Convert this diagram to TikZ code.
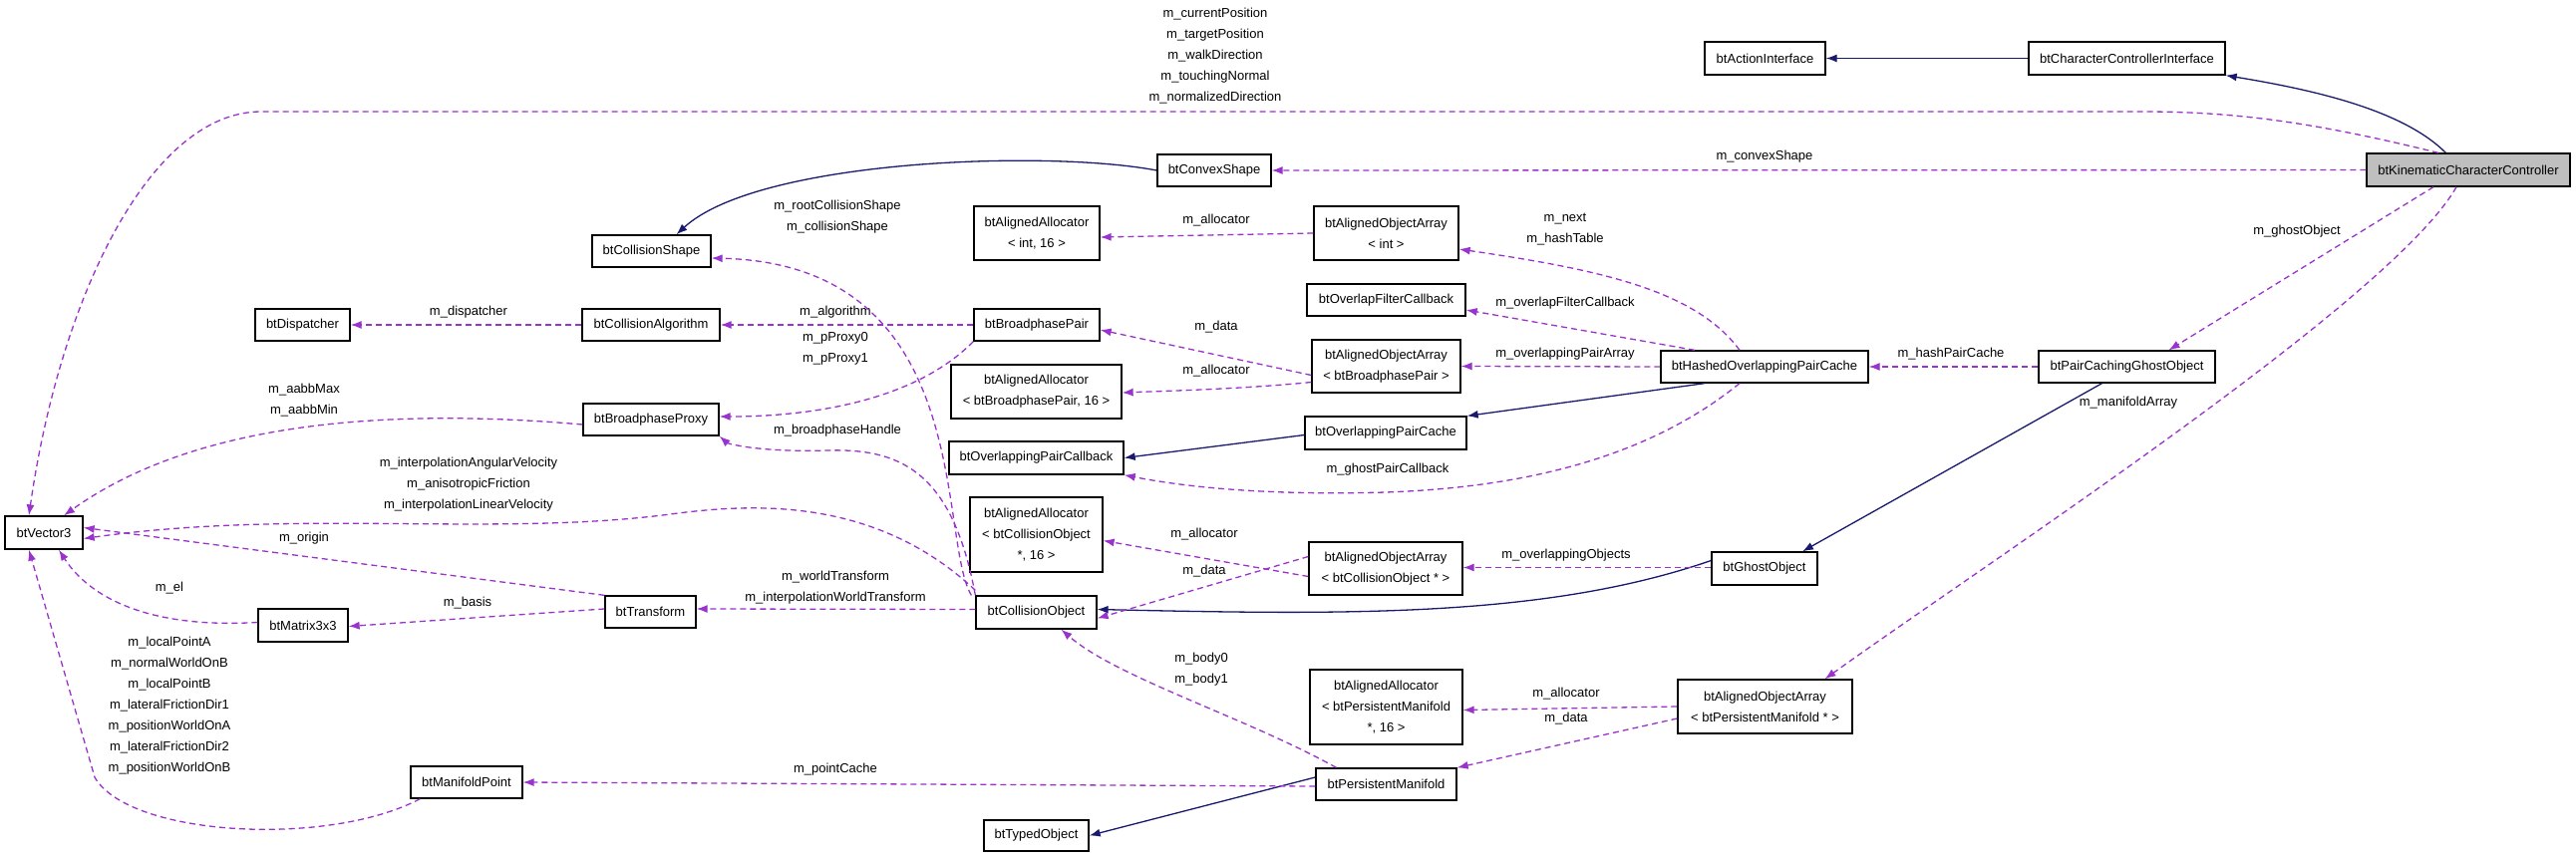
\documentclass[tikz,border=0pt]{standalone}
\usepackage{fontspec}
\setmainfont{Liberation Sans}
\usetikzlibrary{arrows.meta}
\definecolor{dpurple}{HTML}{9A32CD}
\definecolor{navy}{HTML}{191970}
\newcommand\bx[7][]{\node[box,#1,minimum width={(#5-#3)*1pt},minimum height={(#6-#4)*1pt}] (#2) at ({(#3+#5)/2},{(#4+#6)/2}) {#7};}
\newcommand\lb[3]{\node[lbl] (#1) at (#2) {#3};}
\begin{document}
\begin{tikzpicture}[x=1pt,y=-1pt,
  box/.style={draw=black,line width=1.3pt,inner sep=0pt,align=center,font=\fontsize{13}{21}\selectfont},
  lbl/.style={inner sep=0pt,align=center,font=\fontsize{13}{21}\selectfont},
  mem/.style={draw=dpurple,line width=1.3pt,dash pattern=on 6pt off 4pt,-{Latex[length=11pt,width=8pt]}},
  inh/.style={draw=navy,line width=1.3pt,-{Latex[length=11pt,width=8pt]}}]
\useasboundingbox (0,0) rectangle (2584,860);
\fill[white] (0,0) rectangle (2584,860);
% nodes
\bx[fill=black!25]{kcc}{2374}{154}{2578}{187}{btKinematicCharacterController}
\bx{cci}{2035}{42}{2232}{75}{btCharacterControllerInterface}
\bx{ai}{1710}{42}{1831}{75}{btActionInterface}
\bx{cs}{1161}{155}{1275}{187}{btConvexShape}
\bx{v3}{5}{518}{83}{551}{btVector3}
\bx{csh}{594}{236}{713}{268}{btCollisionShape}
\bx{aaint}{977}{207}{1103}{261}{btAlignedAllocator\\{\textless} int, 16 {\textgreater}}
\bx{aoaint}{1318}{207}{1463}{261}{btAlignedObjectArray\\{\textless} int {\textgreater}}
\bx{ofc}{1311}{285}{1470}{317}{btOverlapFilterCallback}
\bx{disp}{256}{310}{351}{342}{btDispatcher}
\bx{calg}{584}{310}{722}{342}{btCollisionAlgorithm}
\bx{bpp}{977}{310}{1103}{342}{btBroadphasePair}
\bx{aoabp}{1316}{341}{1465}{394}{btAlignedObjectArray\\{\textless} btBroadphasePair {\textgreater}}
\bx{aabp}{954}{366}{1125}{420}{btAlignedAllocator\\{\textless} btBroadphasePair, 16 {\textgreater}}
\bx{hash}{1666}{352}{1874}{384}{btHashedOverlappingPairCache}
\bx{pcgo}{2045}{352}{2222}{384}{btPairCachingGhostObject}
\bx{bproxy}{585}{405}{721}{437}{btBroadphaseProxy}
\bx{opc}{1309}{418}{1471}{451}{btOverlappingPairCache}
\bx{opcb}{952}{443}{1127}{476}{btOverlappingPairCallback}
\bx{aaco}{973}{499}{1106}{574}{btAlignedAllocator\\{\textless} btCollisionObject\\*, 16 {\textgreater}}
\bx{aoaco}{1313}{544}{1467}{597}{btAlignedObjectArray\\{\textless} btCollisionObject * {\textgreater}}
\bx{ghost}{1717}{554}{1823}{587}{btGhostObject}
\bx{mx}{259}{611}{349}{644}{btMatrix3x3}
\bx{tr}{607}{598}{698}{630}{btTransform}
\bx{co}{979}{598}{1100}{631}{btCollisionObject}
\bx{aapm}{1314}{672}{1467}{747}{btAlignedAllocator\\{\textless} btPersistentManifold\\*, 16 {\textgreater}}
\bx{aoapm}{1683}{682}{1858}{736}{btAlignedObjectArray\\{\textless} btPersistentManifold * {\textgreater}}
\bx{mp}{412}{769}{524}{801}{btManifoldPoint}
\bx{pm}{1320}{771}{1461}{803}{btPersistentManifold}
\bx{to}{987}{823}{1092}{854}{btTypedObject}
% inheritance
\coordinate (k1) at ([xshift=80pt]kcc.north west);
\draw[inh] (k1) .. controls (2410,110) and (2320,90) .. (cci.south east);
\draw[inh] (cci.west) -- (ai.east);
\draw[inh] (cs.west) .. controls (1050,150) and (760,160) .. ([xshift=25pt]csh.north);
\draw[inh] ([xshift=-60pt]hash.south) -- (opc.north east);
\draw[inh] ([yshift=-2pt]opc.west) -- (opcb.east);
\draw[inh] ([xshift=-25pt]pcgo.south) -- ([xshift=38pt]ghost.north);
\draw[inh] ([yshift=8pt]ghost.west) .. controls (1550,620) and (1350,617) .. ([yshift=3pt]co.east);
\draw[inh] ([yshift=7pt]pm.west) -- (to.east);
% members
\draw[mem] ([xshift=-30pt]kcc.north) .. controls (2330,125) and (2250,112) .. (2150,112) -- (262,112) .. controls (150,112) and (60,300) .. ([xshift=-15pt]v3.north);
\lb{l1}{1219,56}{m\_currentPosition\\m\_targetPosition\\m\_walkDirection\\m\_touchingNormal\\m\_normalizedDirection}
\draw[mem] (kcc.west) -- (cs.east);
\lb{l2}{1770,157}{m\_convexShape}
\draw[mem] ([xshift=-35pt]kcc.south) -- ([xshift=42pt]pcgo.north);
\lb{l3}{2304,232}{m\_ghostObject}
\draw[mem] ([xshift=-12pt]kcc.south) .. controls (2400,300) and (2000,560) .. ([xshift=60pt]aoapm.north);
\lb{l4}{2135,404}{m\_manifoldArray}
\draw[mem] (pcgo.west) -- (hash.east);
\lb{l5}{1957,355}{m\_hashPairCache}
\draw[mem] ([xshift=-25pt]hash.north) .. controls (1700,290) and (1600,270) .. ([yshift=-16pt]aoaint.east);
\lb{l6}{1570,230}{m\_next\\m\_hashTable}
\draw[mem] ([xshift=-70pt]hash.north) -- ([yshift=-10pt]ofc.east);
\lb{l7}{1570,304}{m\_overlapFilterCallback}
\draw[mem] (hash.west) -- (aoabp.east);
\lb{l8}{1570,355}{m\_overlappingPairArray}
\draw[mem] ([xshift=-25pt]hash.south) .. controls (1640,470) and (1500,490) .. (1390,494) .. controls (1250,498) and (1170,485) .. (opcb.south east);
\lb{l9}{1392,471}{m\_ghostPairCallback}
\draw[mem] (aoaint.west) -- ([yshift=-4pt]aaint.east);
\lb{l10}{1220,221}{m\_allocator}
\draw[mem] ([yshift=-9pt]aoabp.west) -- ([yshift=-5pt]bpp.east);
\lb{l11}{1220,328}{m\_data}
\draw[mem] ([yshift=-16pt]aoabp.west) .. controls (1250,390) and (1180,392) .. ([yshift=-1pt]aabp.east);
\lb{l12}{1220,372}{m\_allocator}
\draw[mem] (bpp.west) -- (calg.east);
\lb{l13}{838,313}{m\_algorithm}
\draw[mem] (bpp.south west) .. controls (920,400) and (820,418) .. ([yshift=3pt]bproxy.east);
\lb{l14}{838,350}{m\_pProxy0\\m\_pProxy1}
\draw[mem] (calg.west) -- (disp.east);
\lb{l15}{470,313}{m\_dispatcher}
\draw[mem] ([yshift=-5pt]bproxy.west) .. controls (400,410) and (200,420) .. ([xshift=20pt]v3.north);
\lb{l16}{305,402}{m\_aabbMax\\m\_aabbMin}
\draw[mem] ([xshift=-4pt]co.north west) .. controls (940,540) and (980,265) .. ([yshift=-7pt]csh.east);
\lb{l17}{840,218}{m\_rootCollisionShape\\m\_collisionShape}
\draw[mem] (co.north west) .. controls (955,470) and (900,450) .. (830,452) .. controls (760,454) and (730,445) .. (bproxy.south east);
\lb{l18}{840,432}{m\_broadphaseHandle}
\draw[mem] ([yshift=5pt]co.north west) .. controls (880,500) and (760,505) .. (680,515) .. controls (500,540) and (300,510) .. ([yshift=-6pt]v3.east);
\lb{l19}{470,486}{m\_interpolationAngularVelocity\\m\_anisotropicFriction\\m\_interpolationLinearVelocity}
\draw[mem] ([yshift=3pt]co.west) -- ([yshift=3pt]tr.east);
\lb{l20}{838,590}{m\_worldTransform\\m\_interpolationWorldTransform}
\draw[mem] (tr.north west) -- ([yshift=5pt]v3.east);
\lb{l21}{305,540}{m\_origin}
\draw[mem] ([yshift=3pt]tr.west) -- ([yshift=-1pt]mx.east);
\lb{l22}{469,605}{m\_basis}
\draw[mem] ([yshift=3pt]mx.west) .. controls (150,631) and (90,600) .. ([xshift=15pt]v3.south);
\lb{l23}{170,590}{m\_el}
\draw[mem] ([xshift=10pt]mp.south west) .. controls (330,850) and (130,840) .. (95,780) -- ([xshift=-15pt]v3.south);
\lb{l24}{170,708}{m\_localPointA\\m\_normalWorldOnB\\m\_localPointB\\m\_lateralFrictionDir1\\m\_positionWorldOnA\\m\_lateralFrictionDir2\\m\_positionWorldOnB}
\draw[mem] ([yshift=1pt]ghost.west) -- ([yshift=1pt]aoaco.east);
\lb{l25}{1571,557}{m\_overlappingObjects}
\draw[mem] ([yshift=-8pt]aoaco.west) -- ([yshift=-6pt]aaco.east);
\lb{l26}{1208,536}{m\_allocator}
\draw[mem] ([yshift=12pt]aoaco.west) -- ([yshift=-6pt]co.east);
\lb{l27}{1208,573}{m\_data}
\draw[mem] ([xshift=-50pt]pm.north) .. controls (1250,720) and (1120,680) .. ([xshift=25pt]co.south);
\lb{l28}{1205,672}{m\_body0\\m\_body1}
\draw[mem] ([yshift=-2pt]pm.west) -- (mp.east);
\lb{l29}{838,772}{m\_pointCache}
\draw[mem] (aoapm.west) -- ([yshift=-3pt]aapm.east);
\lb{l30}{1571,696}{m\_allocator}
\draw[mem] ([yshift=-12pt]aoapm.west) -- (pm.north east);
\lb{l31}{1571,721}{m\_data}
\end{tikzpicture}
\end{document}
